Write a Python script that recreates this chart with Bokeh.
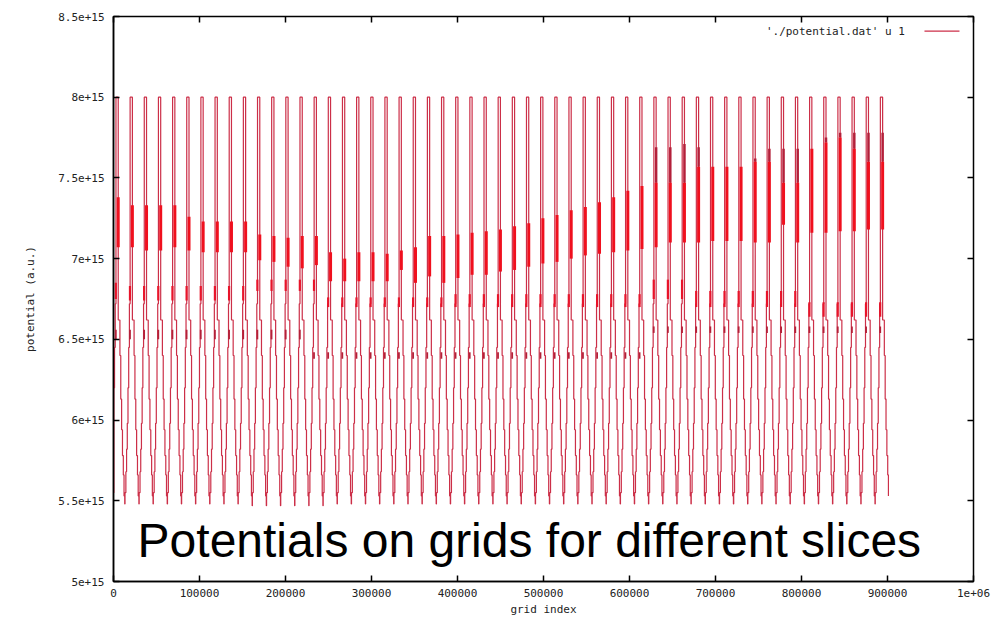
import numpy as np
from bokeh.plotting import figure
from bokeh.models import (ColumnDataSource, FixedTicker, LinearAxis, Range1d,
                          Label, Arrow)
from bokeh.embed import file_html
from bokeh.resources import INLINE

# ---------------- data ----------------
E15 = 1e15
SLICE_LEN = 16460          # grid points per slice
FIRST_TOP = 5000           # grid index of the first maximum
START_LEVEL = 5.55         # potential at grid index 0 (x1e15)

# maximum of every slice (x1e15)
peak = [8.00, 8.00, 8.00, 8.00, 8.00, 8.00, 8.00, 8.00, 8.00, 8.00, 8.00,
        8.00, 8.00, 8.00, 8.00, 8.00, 8.00, 8.00, 8.00, 8.00, 8.00, 8.00,
        8.00, 8.00, 8.00, 8.00, 8.00, 8.00, 8.00, 8.00, 8.00, 8.00, 8.00,
        8.00, 8.00, 8.00, 8.00, 8.00, 8.00, 8.00, 8.00, 8.00, 8.00, 8.00,
        8.00, 8.00, 8.00, 8.00, 8.00, 8.00, 8.00, 8.00, 8.00, 8.00, 8.00]
# minimum reached after every slice (x1e15)
trough = [5.48, 5.48, 5.48, 5.48, 5.48, 5.48, 5.48, 5.48, 5.48, 5.47, 5.47,
          5.47, 5.47, 5.47, 5.47, 5.48, 5.48, 5.48, 5.48, 5.48, 5.48, 5.48,
          5.48, 5.48, 5.48, 5.48, 5.48, 5.48, 5.48, 5.48, 5.48, 5.48, 5.48,
          5.48, 5.48, 5.48, 5.48, 5.48, 5.48, 5.48, 5.48, 5.48, 5.48, 5.48,
          5.48, 5.48, 5.48, 5.48, 5.48, 5.48, 5.48, 5.48, 5.48, 5.48, 5.52]
# dense band on the falling side of each slice (x1e15)
band_hi = [7.38, 7.33, 7.33, 7.33, 7.33, 7.26, 7.23, 7.23, 7.23, 7.23, 7.15,
           7.14, 7.13, 7.14, 7.14, 7.04, 7.00, 7.04, 7.04, 7.03, 7.05, 7.07,
           7.14, 7.14, 7.15, 7.16, 7.17, 7.18, 7.20, 7.22, 7.25, 7.27, 7.30,
           7.32, 7.35, 7.38, 7.42, 7.45, 7.47, 7.47, 7.47, 7.57, 7.57, 7.57,
           7.57, 7.60, 7.60, 7.47, 7.47, 7.68, 7.72, 7.75, 7.68, 7.60, 7.60]
band_lo = [7.07, 7.07, 7.05, 7.05, 7.07, 7.05, 7.04, 7.04, 7.04, 7.04, 6.99,
           6.98, 6.95, 6.94, 6.96, 6.86, 6.86, 6.86, 6.86, 6.86, 6.93, 6.85,
           6.89, 6.85, 6.88, 6.90, 6.90, 6.92, 6.93, 6.95, 6.97, 6.98, 7.00,
           7.02, 7.03, 7.04, 7.05, 7.06, 7.07, 7.10, 7.10, 7.10, 7.11, 7.11,
           7.11, 7.10, 7.10, 7.21, 7.10, 7.16, 7.16, 7.17, 7.17, 7.18, 7.18]
# darker part above the band (x1e15)
dark_top = [7.38, 7.33, 7.33, 7.33, 7.33, 7.26, 7.23, 7.23, 7.23, 7.23, 7.15,
            7.14, 7.13, 7.14, 7.14, 7.04, 7.00, 7.04, 7.04, 7.03, 7.05, 7.07,
            7.14, 7.14, 7.15, 7.16, 7.17, 7.18, 7.20, 7.22, 7.25, 7.27, 7.30,
            7.32, 7.35, 7.38, 7.42, 7.45, 7.69, 7.69, 7.71, 7.69, 7.57, 7.57,
            7.57, 7.62, 7.68, 7.68, 7.68, 7.68, 7.75, 7.78, 7.78, 7.78, 7.78]
# short dense marks on the rising side (x1e15)
mark1_hi = [6.85, 6.83, 6.83, 6.83, 6.83, 6.83, 6.83, 6.83, 6.83, 6.83, 6.87,
            6.87, 6.87, 6.87, 6.87, 6.76, 6.76, 6.76, 6.76, 6.76, 6.76, 6.76,
            6.76, 6.76, 6.78, 6.78, 6.78, 6.78, 6.78, 6.78, 6.78, 6.78, 6.78,
            6.78, 6.78, 6.78, 6.78, 6.78, 6.87, 6.87, 6.87, 6.80, 6.80, 6.80,
            6.80, 6.80, 6.80, 6.80, 6.80, 6.73, 6.73, 6.73, 6.73, 6.73, 6.73]
mark1_lo = [6.75, 6.74, 6.74, 6.74, 6.74, 6.74, 6.74, 6.74, 6.74, 6.74, 6.80,
            6.80, 6.80, 6.80, 6.80, 6.70, 6.70, 6.70, 6.70, 6.70, 6.70, 6.70,
            6.70, 6.70, 6.70, 6.70, 6.70, 6.70, 6.70, 6.70, 6.70, 6.70, 6.70,
            6.70, 6.70, 6.70, 6.70, 6.70, 6.75, 6.75, 6.75, 6.70, 6.70, 6.70,
            6.70, 6.70, 6.70, 6.70, 6.70, 6.64, 6.64, 6.64, 6.64, 6.64, 6.64]
mark2_hi = [6.56, 6.56, 6.56, 6.56, 6.56, 6.56, 6.56, 6.56, 6.56, 6.56, 6.56,
            6.56, 6.56, 6.56, 6.42, 6.42, 6.42, 6.42, 6.42, 6.42, 6.42, 6.42,
            6.42, 6.42, 6.42, 6.42, 6.42, 6.42, 6.42, 6.42, 6.42, 6.42, 6.42,
            6.42, 6.42, 6.42, 6.42, 6.42, 6.58, 6.58, 6.58, 6.58, 6.58, 6.58,
            6.58, 6.58, 6.58, 6.58, 6.58, 6.58, 6.58, 6.58, 6.58, 6.58, 6.58]
mark2_lo = [6.50, 6.50, 6.50, 6.50, 6.50, 6.50, 6.50, 6.50, 6.50, 6.50, 6.50,
            6.50, 6.50, 6.50, 6.38, 6.38, 6.38, 6.38, 6.38, 6.38, 6.38, 6.38,
            6.38, 6.38, 6.38, 6.38, 6.38, 6.38, 6.38, 6.38, 6.38, 6.38, 6.38,
            6.38, 6.38, 6.38, 6.38, 6.38, 6.54, 6.54, 6.54, 6.54, 6.54, 6.54,
            6.54, 6.54, 6.54, 6.54, 6.54, 6.54, 6.54, 6.54, 6.54, 6.54, 6.54]

# staircase inside a slice: position (fraction of a slice after its maximum)
# and the level reached there (x1e15)
DESC_FRAC = [0.03, 0.15, 0.21, 0.27, 0.33, 0.39, 0.44, 0.49]
DESC_LEVEL = [6.62, 6.40, 6.13, 5.94, 5.78, 5.66, 5.53]
ASC_FRAC = [0.51, 0.57, 0.62, 0.67, 0.72, 0.77, 0.82, 0.87]
ASC_LEVEL = [5.55, 5.68, 5.82, 5.98, 6.20, 6.45, 6.72]
BAND_FRAC = 0.03
MARK_FRAC = -0.14

x_ticks = [0, 100000, 200000, 300000, 400000, 500000, 600000, 700000,
           800000, 900000, 1000000]
x_labels = ["0", "100000", "200000", "300000", "400000", "500000", "600000",
            "700000", "800000", "900000", "1e+06"]
y_ticks = [5.0e15, 5.5e15, 6.0e15, 6.5e15, 7.0e15, 7.5e15, 8.0e15, 8.5e15]
y_labels = ["5e+15", "5.5e+15", "6e+15", "6.5e+15", "7e+15", "7.5e+15",
            "8e+15", "8.5e+15"]

SERIES = "'./potential.dat'  u 1"
TITLE = "Potentials on grids for different slices"

# ---------------- build the trace ----------------
n = len(peak)
xs, ys = [0.0], [START_LEVEL]
lvl = START_LEVEL
t_prev = FIRST_TOP - SLICE_LEN
for f, L in zip(ASC_FRAC, ASC_LEVEL + [peak[0]]):
    x = t_prev + f * SLICE_LEN
    if x <= 0:
        continue
    xs += [x, x]
    ys += [lvl, L]
    lvl = L
for k in range(n):
    top = FIRST_TOP + k * SLICE_LEN
    xs.append(top)
    ys.append(peak[k])
    lvl = peak[k]
    last = k == n - 1
    levels = DESC_LEVEL + [trough[k]]
    for i, (f, L) in enumerate(zip(DESC_FRAC, levels)):
        if last and i == len(levels) - 1:
            break
        x = top + f * SLICE_LEN
        xs += [x, x]
        ys += [lvl, L]
        lvl = L
    if last:
        break
    for f, L in zip(ASC_FRAC, ASC_LEVEL + [peak[k + 1]]):
        x = top + f * SLICE_LEN
        xs += [x, x]
        ys += [lvl, L]
        lvl = L

trace = ColumnDataSource(dict(x=xs, y=[v * E15 for v in ys]))

tops = [FIRST_TOP + k * SLICE_LEN for k in range(n)]
bands = ColumnDataSource(dict(
    x=[t + BAND_FRAC * SLICE_LEN for t in tops],
    y0=[v * E15 for v in band_lo], y1=[v * E15 for v in band_hi],
    d1=[v * E15 for v in dark_top]))
marks = ColumnDataSource(dict(
    x=[t + MARK_FRAC * SLICE_LEN for t in tops],
    a0=[v * E15 for v in mark1_lo], a1=[v * E15 for v in mark1_hi],
    b0=[v * E15 for v in mark2_lo], b1=[v * E15 for v in mark2_hi]))

# ---------------- figure ----------------
p = figure(width=995, height=618,
           x_range=Range1d(0, 1e6), y_range=Range1d(5e15, 8.5e15),
           output_backend="svg", toolbar_location=None,
           min_border_left=113, min_border_right=22,
           min_border_top=16, min_border_bottom=36,
           x_axis_label="grid index", y_axis_label="potential (a.u.)")
p.background_fill_color = "white"
p.border_fill_color = "white"
p.outline_line_color = "black"
p.outline_line_width = 1.5
p.xgrid.grid_line_color = None
p.ygrid.grid_line_color = None

LINE = "#cc2f48"
p.line("x", "y", source=trace, line_color=LINE, line_width=1.2)
p.segment(x0="x", y0="y1", x1="x", y1="d1", source=bands,
          line_color="#b3203a", line_width=2.5)
p.segment(x0="x", y0="y0", x1="x", y1="y1", source=bands,
          line_color="#f0101e", line_width=3)
p.segment(x0="x", y0="a0", x1="x", y1="a1", source=marks,
          line_color="#e8142a", line_width=2.2)
p.segment(x0="x", y0="b0", x1="x", y1="b1", source=marks,
          line_color="#b42038", line_width=1.8)

MONO = "DejaVu Sans Mono"
xt = FixedTicker(ticks=x_ticks)
yt = FixedTicker(ticks=y_ticks)

for ax in p.xaxis:
    ax.ticker = xt
    ax.major_label_overrides = {t: s for t, s in zip(x_ticks, x_labels)}
    ax.major_label_standoff = 7
    ax.axis_label_standoff = 3
for ax in p.yaxis:
    ax.ticker = yt
    ax.major_label_overrides = {t: s for t, s in zip(y_ticks, y_labels)}
    ax.major_label_standoff = 9
    ax.axis_label_standoff = 18
for ax in list(p.xaxis) + list(p.yaxis):
    ax.axis_line_color = "black"
    ax.axis_line_width = 1.5
    ax.major_tick_in = 6
    ax.major_tick_out = 0
    ax.major_tick_line_color = "black"
    ax.major_tick_line_width = 1.5
    ax.minor_tick_line_color = None
    ax.major_label_text_font = MONO
    ax.major_label_text_font_size = "11px"
    ax.major_label_text_color = "#222222"
    ax.axis_label_text_font = MONO
    ax.axis_label_text_font_size = "11px"
    ax.axis_label_text_font_style = "normal"
    ax.axis_label_text_color = "#222222"

# mirrored ticks (no labels) on the right and top edges
for side, ticks in (("right", y_ticks), ("above", x_ticks)):
    mirror = LinearAxis(ticker=FixedTicker(ticks=ticks))
    mirror.axis_line_color = None
    mirror.major_tick_in = 6
    mirror.major_tick_out = 0
    mirror.major_tick_line_color = "black"
    mirror.major_tick_line_width = 1.5
    mirror.minor_tick_line_color = None
    mirror.major_label_overrides = {t: "" for t in ticks}
    mirror.major_label_text_color = None
    mirror.major_label_standoff = 0
    p.add_layout(mirror, side)

# key (text, then line sample) in the upper right corner
p.add_layout(Label(x=928000, y=8.41e15, text=SERIES, text_align="right",
                   text_baseline="middle", text_font=MONO,
                   text_font_size="11px", text_color="#222222"))
p.add_layout(Arrow(end=None, x_start=943000, y_start=8.41e15,
                   x_end=983700, y_end=8.41e15,
                   line_color=LINE, line_width=1.2))

# big caption over the lower part of the plot
p.add_layout(Label(x=28000, y=5.253e15, text=TITLE, text_align="left",
                   text_baseline="alphabetic", text_font="Liberation Sans",
                   text_font_size="48px", text_color="black"))

open("out.html", "w").write(file_html(p, INLINE))
